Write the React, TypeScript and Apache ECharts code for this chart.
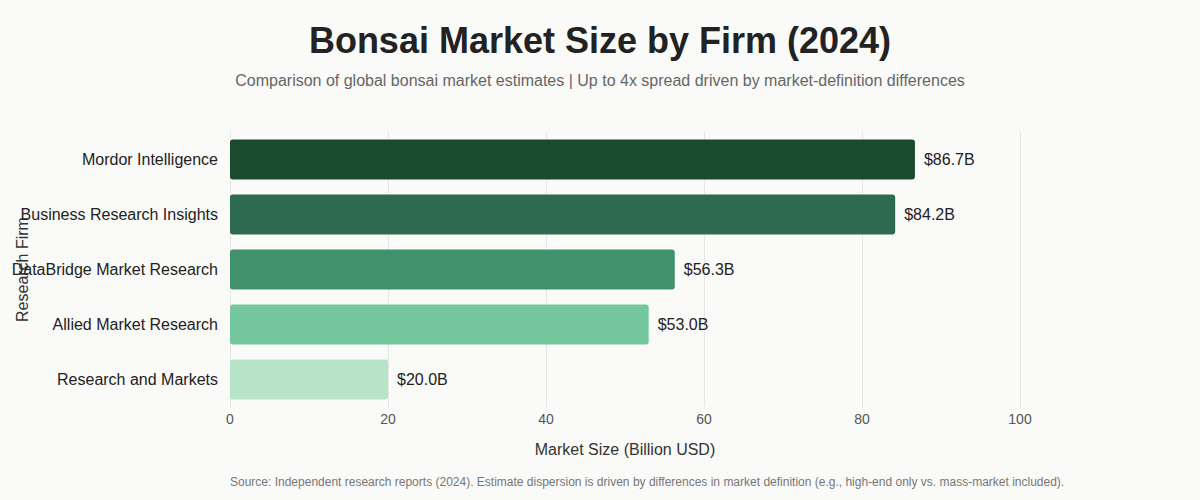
import React, { useEffect, useRef } from "react";
import * as echarts from "echarts";

const firms = [
  "Mordor Intelligence",
  "Business Research Insights",
  "DataBridge Market Research",
  "Allied Market Research",
  "Research and Markets",
];
const marketSize = [86.7, 84.2, 56.3, 53.0, 20.0];
const barColors = ["#1b4b2e", "#2d6a4f", "#40916c", "#74c69d", "#b7e4c7"];

const FONT = "'Liberation Sans', Arial, Helvetica, sans-serif";

export default function App() {
  const ref = useRef<HTMLDivElement>(null);
  useEffect(() => {
    document.body.style.margin = "0";
    document.body.style.overflow = "hidden";
    if (!ref.current) return;
    const chart = echarts.init(ref.current, null, { renderer: "svg" });
    chart.setOption({
      animation: false,
      backgroundColor: "#fafaf9",
      textStyle: { fontFamily: FONT },
      title: {
        text: "Bonsai Market Size by Firm (2024)",
        subtext:
          "Comparison of global bonsai market estimates | Up to 4x spread driven by market-definition differences",
        left: "center",
        top: 17,
        itemGap: 14,
        textStyle: { fontSize: 36, fontWeight: "bold", color: "#222", fontFamily: FONT },
        subtextStyle: { fontSize: 16, color: "#666", fontFamily: FONT },
      },
      graphic: [
        {
          type: "text",
          left: 230,
          top: 476,
          style: {
            text: "Source: Independent research reports (2024). Estimate dispersion is driven by differences in market definition (e.g., high-end only vs. mass-market included).",
            fontSize: 12,
            fill: "#777",
            fontFamily: FONT,
          },
        },
      ],
      grid: {
        left: 230,
        right: 180,
        top: 132,
        bottom: 93,
        containLabel: false,
        outerBoundsMode: "none",
      },
      xAxis: {
        type: "value",
        min: 0,
        max: 100,
        interval: 20,
        name: "Market Size (Billion USD)",
        nameLocation: "middle",
        nameGap: 34,
        nameMoveOverlap: false,
        nameTextStyle: { fontSize: 16, color: "#333", fontFamily: FONT },
        axisLabel: { fontSize: 14, color: "#555", margin: 5, fontFamily: FONT },
        axisLine: { show: false },
        axisTick: { show: false },
        splitLine: { lineStyle: { color: "#e6e6e6" } },
      },
      yAxis: {
        type: "category",
        data: firms,
        inverse: true,
        name: "Research Firm",
        nameLocation: "middle",
        nameGap: 200,
        nameRotate: 90,
        nameMoveOverlap: false,
        nameTextStyle: { fontSize: 16, color: "#333", fontFamily: FONT },
        axisLabel: { fontSize: 16, color: "#222", margin: 12, fontFamily: FONT },
        axisLine: { show: true, lineStyle: { color: "#e6e6e6" } },
        axisTick: { show: false },
      },
      series: [
        {
          type: "bar",
          data: marketSize.map((v, i) => ({ value: v, itemStyle: { color: barColors[i] } })),
          barCategoryGap: "27%",
          itemStyle: { borderRadius: 3 },
          label: {
            show: true,
            position: "right",
            distance: 9,
            fontSize: 16,
            color: "#222",
            fontFamily: FONT,
            formatter: (p: any) => "$" + Number(p.value).toFixed(1) + "B",
          },
        },
      ],
    });
    return () => chart.dispose();
  }, []);
  return <div ref={ref} style={{ width: 1200, height: 500 }} />;
}
